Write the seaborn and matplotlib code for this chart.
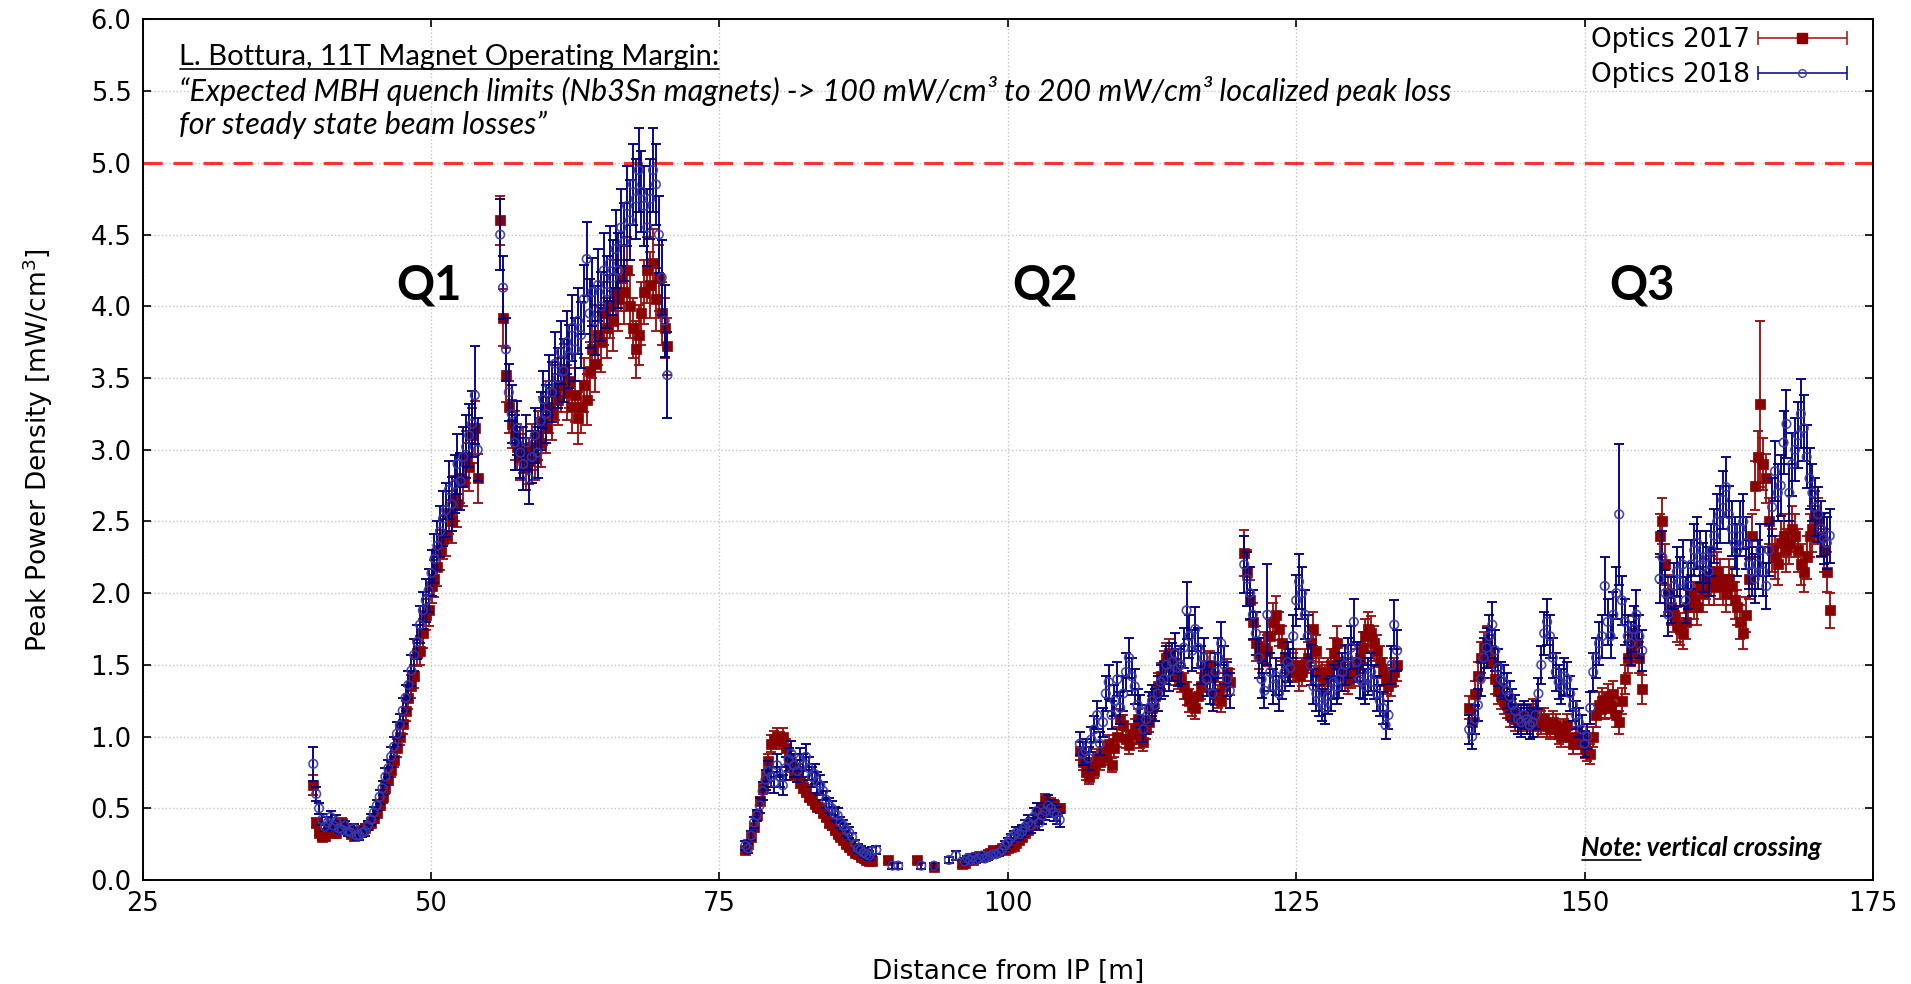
import numpy as np
import matplotlib
matplotlib.use("Agg")
import matplotlib.pyplot as plt
import seaborn as sns
from matplotlib.container import ErrorbarContainer
from matplotlib.legend_handler import HandlerErrorbar
from matplotlib.lines import Line2D
from matplotlib.transforms import IdentityTransform

nan = np.nan

# ---------------------------------------------------------------- data
# Peak power density [mW/cm^3] along the triplet, per magnet section.
# x: distance from IP [m]; y17/e17: optics 2017; y18/e18: optics 2018.

# Q1, rising part
x_q1a = [39.80, 40.05, 40.30, 40.55, 40.80, 41.05, 41.30, 41.55, 41.80, 42.05,
         42.30, 42.55, 42.80, 43.05, 43.30, 43.55, 43.80, 44.05, 44.30, 44.55,
         44.80, 45.05, 45.30, 45.55, 45.80, 46.05, 46.30, 46.55, 46.80, 47.05,
         47.30, 47.55, 47.80, 48.05, 48.30, 48.55, 48.80, 49.05, 49.30, 49.55,
         49.80, 50.05, 50.30, 50.55, 50.80, 51.05, 51.30, 51.55, 51.80, 52.05,
         52.30, 52.55, 52.80, 53.05, 53.30, 53.55, 53.80, 54.05]
y17_q1a = [0.66, 0.40, 0.33, 0.30, 0.31, 0.34, 0.36, 0.33, 0.33, 0.37,
           0.40, 0.36, 0.35, 0.32, 0.31, 0.33, 0.34, 0.35, 0.36, 0.38,
           0.40, 0.43, 0.47, 0.52, 0.58, 0.64, 0.70, 0.77, 0.84, 0.92,
           1.00, 1.09, 1.18, 1.27, 1.35, 1.42, 1.58, 1.60, 1.72, 1.85,
           1.88, 2.05, 2.10, 2.18, 2.30, 2.38, 2.40, 2.56, 2.50, 2.66,
           2.62, 2.80, 2.78, 2.95, 2.88, 3.10, 3.15, 2.80]
e17_q1a = [0.07, 0.03, 0.02, 0.02, 0.02, 0.02, 0.03, 0.02, 0.02, 0.03,
           0.03, 0.03, 0.03, 0.02, 0.02, 0.02, 0.02, 0.02, 0.03, 0.03,
           0.03, 0.03, 0.03, 0.03, 0.04, 0.04, 0.04, 0.05, 0.05, 0.06,
           0.06, 0.07, 0.07, 0.08, 0.08, 0.08, 0.09, 0.10, 0.10, 0.11,
           0.11, 0.12, 0.13, 0.13, 0.14, 0.14, 0.14, 0.15, 0.15, 0.16,
           0.16, 0.17, 0.17, 0.18, 0.17, 0.19, 0.19, 0.17]
y18_q1a = [0.81, 0.60, 0.50, 0.42, 0.37, 0.40, 0.44, 0.38, 0.41, 0.36,
           0.35, 0.38, 0.34, 0.33, 0.36, 0.31, 0.31, 0.33, 0.34, 0.38,
           0.42, 0.47, 0.52, 0.58, 0.64, 0.72, 0.78, 0.86, 0.93, 1.02,
           1.08, 1.18, 1.27, 1.36, 1.46, 1.57, 1.66, 1.78, 1.88, 1.95,
           2.02, 2.14, 2.24, 2.33, 2.43, 2.52, 2.58, 2.72, 2.62, 2.76,
           2.90, 2.78, 2.95, 3.02, 3.10, 3.18, 3.38, 3.00]
e18_q1a = [0.12, 0.05, 0.04, 0.04, 0.03, 0.04, 0.04, 0.03, 0.04, 0.03,
           0.03, 0.03, 0.03, 0.03, 0.03, 0.03, 0.03, 0.03, 0.03, 0.03,
           0.04, 0.04, 0.04, 0.05, 0.05, 0.06, 0.06, 0.07, 0.07, 0.08,
           0.08, 0.09, 0.09, 0.10, 0.11, 0.11, 0.12, 0.13, 0.13, 0.15,
           0.15, 0.16, 0.17, 0.17, 0.18, 0.19, 0.19, 0.20, 0.19, 0.20,
           0.21, 0.20, 0.21, 0.22, 0.22, 0.23, 0.34, 0.22]

# Q1, second half
x_q1b = [56.00, 56.25, 56.50, 56.75, 57.00, 57.25, 57.50, 57.75, 58.00, 58.25,
         58.50, 58.75, 59.00, 59.25, 59.50, 59.75, 60.00, 60.25, 60.50, 60.75,
         61.00, 61.25, 61.50, 61.75, 62.00, 62.25, 62.50, 62.75, 63.00, 63.25,
         63.50, 63.75, 64.00, 64.25, 64.50, 64.75, 65.00, 65.25, 65.50, 65.75,
         66.00, 66.25, 66.50, 66.75, 67.00, 67.25, 67.50, 67.75, 68.00, 68.25,
         68.50, 68.75, 69.00, 69.25, 69.50, 69.75, 70.00, 70.25, 70.50]
y17_q1b = [4.60, 3.92, 3.52, 3.30, 3.18, 3.10, 3.02, 2.95, 3.00, 2.88,
           2.92, 3.02, 2.95, 3.10, 3.05, 3.20, 3.15, 3.30, 3.25, 3.40,
           3.35, 3.45, 3.55, 3.40, 3.48, 3.30, 3.38, 3.22, 3.30, 3.45,
           3.35, 3.55, 3.70, 3.60, 3.80, 3.75, 3.95, 3.85, 4.00, 3.90,
           4.10, 4.05, 4.20, 4.10, 4.25, 4.00, 3.85, 3.70, 3.80, 3.95,
           4.10, 4.25, 4.15, 4.30, 4.05, 4.20, 3.95, 3.85, 3.72]
e17_q1b = [0.17, 0.20, 0.19, 0.18, 0.17, 0.17, 0.16, 0.16, 0.16, 0.16,
           0.16, 0.16, 0.16, 0.17, 0.17, 0.17, 0.17, 0.18, 0.18, 0.19,
           0.18, 0.19, 0.19, 0.19, 0.19, 0.18, 0.19, 0.18, 0.18, 0.19,
           0.18, 0.20, 0.20, 0.20, 0.21, 0.21, 0.22, 0.21, 0.22, 0.21,
           0.22, 0.22, 0.23, 0.22, 0.23, 0.22, 0.21, 0.20, 0.21, 0.22,
           0.22, 0.23, 0.23, 0.24, 0.22, 0.23, 0.22, 0.21, 0.20]
y18_q1b = [4.50, 4.13, 3.70, 3.40, 3.25, 3.05, 3.15, 2.98, 2.90, 3.05,
           2.80, 2.95, 3.10, 2.98, 3.20, 3.35, 3.25, 3.45, 3.40, 3.60,
           3.50, 3.68, 3.55, 3.75, 3.65, 3.85, 3.70, 3.90, 3.80, 4.05,
           4.33, 3.95, 4.10, 3.90, 4.15, 4.00, 4.25, 4.10, 4.30, 4.20,
           4.40, 4.25, 4.55, 4.45, 4.70, 4.60, 4.85, 4.75, 4.95, 4.80,
           4.70, 4.55, 4.75, 4.95, 4.85, 4.50, 4.20, 3.90, 3.52]
e18_q1b = [0.25, 0.22, 0.22, 0.20, 0.20, 0.19, 0.19, 0.18, 0.18, 0.19,
           0.18, 0.18, 0.19, 0.18, 0.20, 0.20, 0.20, 0.21, 0.21, 0.22,
           0.21, 0.22, 0.22, 0.22, 0.22, 0.23, 0.22, 0.23, 0.23, 0.24,
           0.26, 0.24, 0.24, 0.24, 0.25, 0.24, 0.26, 0.25, 0.26, 0.26,
           0.27, 0.26, 0.27, 0.27, 0.28, 0.28, 0.28, 0.28, 0.29, 0.28,
           0.28, 0.27, 0.28, 0.29, 0.28, 0.27, 0.26, 0.25, 0.30]

# Q2, first bump
x_q2a = [77.25, 77.50, 77.75, 78.00, 78.25, 78.50, 78.75, 79.00, 79.25, 79.50,
         79.75, 80.00, 80.25, 80.50, 80.75, 81.00, 81.25, 81.50, 81.75, 82.00,
         82.25, 82.50, 82.75, 83.00, 83.25, 83.50, 83.75, 84.00, 84.25, 84.50,
         84.75, 85.00, 85.25, 85.50, 85.75, 86.00, 86.25, 86.50, 86.75, 87.00,
         87.25, 87.50, 87.75, 88.00, 88.25]
y17_q2a = [0.21, 0.25, 0.30, 0.37, 0.45, 0.55, 0.64, 0.72, 0.83, 0.95,
           0.98, 1.00, 0.97, 1.00, 0.92, 0.85, 0.80, 0.74, 0.76, 0.68,
           0.65, 0.62, 0.58, 0.56, 0.53, 0.51, 0.50, 0.47, 0.44, 0.40,
           0.38, 0.35, 0.32, 0.30, 0.28, 0.25, 0.23, 0.21, 0.19, 0.18,
           0.16, 0.15, 0.14, 0.13, 0.13]
e17_q2a = [0.02, 0.02, 0.02, 0.02, 0.03, 0.03, 0.04, 0.04, 0.05, 0.06,
           0.06, 0.06, 0.06, 0.06, 0.06, 0.05, 0.05, 0.04, 0.05, 0.04,
           0.04, 0.04, 0.03, 0.03, 0.03, 0.03, 0.03, 0.03, 0.03, 0.03,
           0.03, 0.02, 0.02, 0.02, 0.02, 0.02, 0.02, 0.02, 0.02, 0.02,
           0.02, 0.02, 0.02, 0.02, 0.02]
y18_q2a = [0.24, 0.22, 0.31, 0.40, 0.45, 0.52, 0.62, 0.70, 0.76, 0.72,
           0.68, 0.80, 0.72, 0.66, 0.78, 0.84, 0.88, 0.80, 0.76, 0.84,
           0.80, 0.86, 0.78, 0.72, 0.74, 0.68, 0.66, 0.62, 0.56, 0.52,
           0.50, 0.46, 0.45, 0.40, 0.38, 0.35, 0.33, 0.30, 0.25, 0.22,
           0.21, 0.19, 0.18, 0.17, 0.20]
e18_q2a = [0.03, 0.03, 0.03, 0.04, 0.04, 0.05, 0.06, 0.07, 0.07, 0.07,
           0.07, 0.08, 0.07, 0.07, 0.08, 0.08, 0.09, 0.08, 0.08, 0.08,
           0.08, 0.09, 0.08, 0.07, 0.07, 0.07, 0.07, 0.06, 0.06, 0.05,
           0.05, 0.05, 0.05, 0.04, 0.04, 0.04, 0.04, 0.03, 0.03, 0.03,
           0.03, 0.03, 0.03, 0.03, 0.03]

# Q2, sparse low-loss stretch (nan = no bin for that optics)
x_q2s = [88.6, 89.6, 90.0, 90.5, 92.1, 92.5, 93.6, 94.9, 95.5, 96.0]
y17_q2s = [nan, 0.14, nan, nan, 0.14, nan, 0.09, nan, nan, 0.11]
e17_q2s = [nan, 0.02, nan, nan, 0.02, nan, 0.01, nan, nan, 0.02]
y18_q2s = [0.21, nan, 0.10, 0.10, nan, 0.10, 0.10, 0.14, 0.17, nan]
e18_q2s = [0.03, nan, 0.02, 0.02, nan, 0.02, 0.02, 0.02, 0.03, nan]

# Q2, slow rise
x_q2b = [96.25, 96.50, 96.75, 97.00, 97.25, 97.50, 97.75, 98.00, 98.25, 98.50,
         98.75, 99.00, 99.25, 99.50, 99.75, 100.00, 100.25, 100.50, 100.75,
         101.00, 101.25, 101.50, 101.75, 102.00, 102.25, 102.50, 102.75,
         103.00, 103.25, 103.50, 103.75, 104.00, 104.25, 104.50]
y17_q2b = [0.12, 0.14, 0.15, 0.14, 0.16, 0.17, 0.16, 0.17, 0.18, 0.19,
           0.21, 0.20, 0.21, 0.22, 0.21, 0.22, 0.23, 0.24, 0.26, 0.28,
           0.30, 0.33, 0.35, 0.38, 0.40, 0.43, 0.46, 0.50, 0.56, 0.50,
           0.53, 0.52, 0.48, 0.50]
e17_q2b = [0.02, 0.02, 0.02, 0.02, 0.02, 0.02, 0.02, 0.02, 0.02, 0.02,
           0.02, 0.02, 0.02, 0.02, 0.02, 0.02, 0.02, 0.02, 0.02, 0.02,
           0.02, 0.02, 0.02, 0.03, 0.03, 0.03, 0.03, 0.03, 0.04, 0.03,
           0.04, 0.04, 0.03, 0.03]
y18_q2b = [0.13, 0.15, 0.14, 0.16, 0.14, 0.15, 0.17, 0.15, 0.16, 0.17,
           0.18, 0.18, 0.19, 0.21, 0.24, 0.26, 0.29, 0.31, 0.33, 0.32,
           0.34, 0.37, 0.40, 0.38, 0.44, 0.48, 0.40, 0.45, 0.48, 0.52,
           0.50, 0.47, 0.45, 0.42]
e18_q2b = [0.02, 0.02, 0.02, 0.02, 0.02, 0.02, 0.02, 0.02, 0.02, 0.02,
           0.02, 0.02, 0.02, 0.02, 0.03, 0.03, 0.03, 0.03, 0.04, 0.04,
           0.04, 0.05, 0.05, 0.05, 0.06, 0.06, 0.05, 0.06, 0.06, 0.07,
           0.06, 0.06, 0.06, 0.05]

# Q2, second module
x_q2c = [106.25, 106.50, 106.75, 107.00, 107.25, 107.50, 107.75, 108.00,
         108.25, 108.50, 108.75, 109.00, 109.25, 109.50, 109.75, 110.00,
         110.25, 110.50, 110.75, 111.00, 111.25, 111.50, 111.75, 112.00,
         112.25, 112.50, 112.75, 113.00, 113.25, 113.50, 113.75, 114.00,
         114.25, 114.50, 114.75, 115.00, 115.25, 115.50, 115.75, 116.00,
         116.25, 116.50, 116.75, 117.00, 117.25, 117.50, 117.75, 118.00,
         118.25, 118.50, 118.75, 119.00, 119.25]
y17_q2c = [0.90, 0.82, 0.75, 0.72, 0.80, 0.76, 0.85, 0.82, 0.90, 0.86,
           0.95, 0.80, 0.92, 1.00, 1.12, 1.08, 0.98, 0.94, 1.02, 1.05,
           1.12, 0.98, 0.96, 1.05, 1.10, 1.20, 1.28, 1.35, 1.42, 1.50,
           1.55, 1.58, 1.50, 1.45, 1.42, 1.40, 1.35, 1.30, 1.25, 1.22,
           1.20, 1.28, 1.35, 1.40, 1.48, 1.50, 1.42, 1.30, 1.28, 1.25,
           1.35, 1.45, 1.38]
e17_q2c = [0.06, 0.05, 0.05, 0.05, 0.05, 0.05, 0.06, 0.05, 0.06, 0.06,
           0.06, 0.05, 0.06, 0.07, 0.07, 0.07, 0.06, 0.06, 0.07, 0.07,
           0.07, 0.06, 0.06, 0.07, 0.07, 0.08, 0.08, 0.09, 0.09, 0.10,
           0.10, 0.10, 0.10, 0.09, 0.09, 0.09, 0.09, 0.08, 0.08, 0.08,
           0.08, 0.08, 0.09, 0.09, 0.10, 0.10, 0.09, 0.08, 0.08, 0.08,
           0.09, 0.09, 0.09]
y18_q2c = [0.95, 0.88, 0.90, 0.85, 0.98, 1.05, 1.15, 0.95, 1.10, 1.30,
           1.38, 1.15, 1.25, 1.40, 1.20, 1.30, 1.45, 1.55, 1.42, 1.35,
           1.22, 1.18, 1.05, 1.12, 1.20, 1.25, 1.22, 1.30, 1.38, 1.40,
           1.50, 1.45, 1.52, 1.58, 1.48, 1.50, 1.62, 1.88, 1.70, 1.60,
           1.75, 1.62, 1.50, 1.55, 1.40, 1.35, 1.30, 1.45, 1.55, 1.65,
           1.50, 1.40, 1.32]
e18_q2c = [0.08, 0.08, 0.08, 0.08, 0.09, 0.09, 0.10, 0.08, 0.10, 0.12,
           0.12, 0.10, 0.11, 0.12, 0.11, 0.12, 0.13, 0.14, 0.13, 0.12,
           0.11, 0.11, 0.09, 0.10, 0.11, 0.11, 0.11, 0.12, 0.12, 0.12,
           0.13, 0.13, 0.13, 0.14, 0.13, 0.13, 0.14, 0.20, 0.15, 0.14,
           0.15, 0.14, 0.13, 0.14, 0.12, 0.12, 0.12, 0.13, 0.14, 0.15,
           0.13, 0.12, 0.12]

# Q2, third module
x_q2d = [120.50, 120.75, 121.00, 121.25, 121.50, 121.75, 122.00, 122.25,
         122.50, 122.75, 123.00, 123.25, 123.50, 123.75, 124.00, 124.25,
         124.50, 124.75, 125.00, 125.25, 125.50, 125.75, 126.00, 126.25,
         126.50, 126.75, 127.00, 127.25, 127.50, 127.75, 128.00, 128.25,
         128.50, 128.75, 129.00, 129.25, 129.50, 129.75, 130.00, 130.25,
         130.50, 130.75, 131.00, 131.25, 131.50, 131.75, 132.00, 132.25,
         132.50, 132.75, 133.00, 133.25, 133.50, 133.75]
y17_q2d = [2.28, 2.15, 1.95, 1.80, 1.65, 1.58, 1.55, 1.62, 1.60, 1.70,
           1.80, 1.85, 1.75, 1.65, 1.55, 1.50, 1.45, 1.48, 1.50, 1.42,
           1.45, 1.50, 1.55, 1.65, 1.75, 1.60, 1.45, 1.42, 1.40, 1.45,
           1.50, 1.58, 1.65, 1.52, 1.45, 1.42, 1.40, 1.44, 1.45, 1.50,
           1.55, 1.62, 1.70, 1.75, 1.72, 1.65, 1.60, 1.52, 1.45, 1.40,
           1.35, 1.38, 1.45, 1.50]
e17_q2d = [0.16, 0.15, 0.14, 0.13, 0.12, 0.11, 0.11, 0.11, 0.11, 0.12,
           0.13, 0.13, 0.12, 0.12, 0.11, 0.11, 0.10, 0.10, 0.11, 0.10,
           0.10, 0.11, 0.11, 0.12, 0.12, 0.11, 0.10, 0.10, 0.10, 0.10,
           0.11, 0.11, 0.12, 0.11, 0.10, 0.10, 0.10, 0.10, 0.10, 0.11,
           0.11, 0.11, 0.12, 0.12, 0.12, 0.12, 0.11, 0.11, 0.10, 0.10,
           0.10, 0.10, 0.10, 0.11]
y18_q2d = [2.20, 2.10, 2.00, 1.85, 1.72, 1.55, 1.40, 1.32, 1.85, 1.45,
           1.35, 1.42, 1.30, 1.38, 1.45, 1.52, 1.48, 1.70, 1.95, 2.08,
           2.00, 1.85, 1.70, 1.50, 1.35, 1.30, 1.25, 1.22, 1.20, 1.28,
           1.30, 1.38, 1.35, 1.40, 1.45, 1.50, 1.55, 1.62, 1.80, 1.52,
           1.40, 1.38, 1.35, 1.42, 1.45, 1.38, 1.30, 1.25, 1.20, 1.08,
           1.15, 1.50, 1.78, 1.60]
e18_q2d = [0.20, 0.19, 0.18, 0.17, 0.15, 0.14, 0.13, 0.12, 0.35, 0.13,
           0.12, 0.13, 0.12, 0.12, 0.13, 0.14, 0.13, 0.15, 0.18, 0.19,
           0.18, 0.17, 0.15, 0.14, 0.12, 0.12, 0.11, 0.11, 0.11, 0.12,
           0.12, 0.12, 0.12, 0.13, 0.13, 0.14, 0.14, 0.15, 0.16, 0.14,
           0.13, 0.12, 0.12, 0.13, 0.13, 0.12, 0.12, 0.11, 0.11, 0.10,
           0.10, 0.13, 0.17, 0.14]

# Q3, first half
x_q3a = [140.00, 140.25, 140.50, 140.75, 141.00, 141.25, 141.50, 141.75,
         142.00, 142.25, 142.50, 142.75, 143.00, 143.25, 143.50, 143.75,
         144.00, 144.25, 144.50, 144.75, 145.00, 145.25, 145.50, 145.75,
         146.00, 146.25, 146.50, 146.75, 147.00, 147.25, 147.50, 147.75,
         148.00, 148.25, 148.50, 148.75, 149.00, 149.25, 149.50, 149.75,
         150.00, 150.25, 150.50, 150.75, 151.00, 151.25, 151.50, 151.75,
         152.00, 152.25, 152.50, 152.75, 153.00, 153.25, 153.50, 153.75,
         154.00, 154.25, 154.50, 154.75, 155.00]
y17_q3a = [1.20, 1.10, 1.30, 1.42, 1.55, 1.62, 1.65, 1.60, 1.52, 1.40,
           1.32, 1.28, 1.25, 1.22, 1.15, 1.18, 1.12, 1.10, 1.15, 1.12,
           1.10, 1.15, 1.18, 1.12, 1.08, 1.10, 1.12, 1.08, 1.05, 1.10,
           1.08, 1.02, 1.00, 1.05, 1.08, 1.00, 0.95, 0.98, 1.00, 0.95,
           0.92, 0.90, 0.88, 1.00, 1.15, 1.22, 1.25, 1.20, 1.28, 1.22,
           1.30, 1.15, 1.10, 1.25, 1.40, 1.55, 1.60, 1.72, 1.65, 1.55,
           1.33]
e17_q3a = [0.08, 0.08, 0.09, 0.10, 0.11, 0.11, 0.12, 0.11, 0.11, 0.10,
           0.09, 0.09, 0.09, 0.09, 0.08, 0.08, 0.08, 0.08, 0.08, 0.08,
           0.08, 0.08, 0.08, 0.08, 0.08, 0.08, 0.08, 0.08, 0.07, 0.08,
           0.08, 0.07, 0.07, 0.07, 0.08, 0.07, 0.07, 0.07, 0.07, 0.07,
           0.07, 0.07, 0.07, 0.07, 0.08, 0.09, 0.09, 0.08, 0.09, 0.09,
           0.09, 0.08, 0.08, 0.09, 0.10, 0.11, 0.11, 0.12, 0.12, 0.11,
           0.10]
y18_q3a = [1.05, 1.00, 1.12, 1.22, 1.40, 1.55, 1.62, 1.70, 1.78, 1.60,
           1.48, 1.40, 1.38, 1.32, 1.28, 1.22, 1.18, 1.12, 1.10, 1.15,
           1.12, 1.08, 1.10, 1.15, 1.30, 1.50, 1.72, 1.80, 1.70, 1.55,
           1.45, 1.38, 1.35, 1.42, 1.40, 1.30, 1.22, 1.15, 1.10, 1.05,
           0.95, 1.00, 1.20, 1.45, 1.55, 1.65, 1.70, 2.05, 1.80, 1.70,
           1.85, 2.00, 2.55, 1.95, 1.80, 1.70, 1.65, 1.75, 1.85, 1.70,
           1.60]
e18_q3a = [0.10, 0.09, 0.10, 0.11, 0.12, 0.14, 0.14, 0.15, 0.16, 0.14,
           0.13, 0.12, 0.12, 0.12, 0.11, 0.11, 0.11, 0.10, 0.10, 0.10,
           0.10, 0.10, 0.10, 0.10, 0.11, 0.13, 0.15, 0.16, 0.15, 0.14,
           0.13, 0.12, 0.12, 0.13, 0.12, 0.12, 0.11, 0.10, 0.10, 0.10,
           0.09, 0.09, 0.11, 0.13, 0.14, 0.15, 0.15, 0.20, 0.16, 0.15,
           0.16, 0.18, 0.49, 0.17, 0.16, 0.15, 0.15, 0.16, 0.17, 0.15,
           0.14]

# Q3, second half
x_q3b = [156.50, 156.75, 157.00, 157.25, 157.50, 157.75, 158.00, 158.25,
         158.50, 158.75, 159.00, 159.25, 159.50, 159.75, 160.00, 160.25,
         160.50, 160.75, 161.00, 161.25, 161.50, 161.75, 162.00, 162.25,
         162.50, 162.75, 163.00, 163.25, 163.50, 163.75, 164.00, 164.25,
         164.50, 164.75, 165.00, 165.25, 165.50, 165.75, 166.00, 166.25,
         166.50, 166.75, 167.00, 167.25, 167.50, 167.75, 168.00, 168.25,
         168.50, 168.75, 169.00, 169.25, 169.50, 169.75, 170.00, 170.25,
         170.50, 170.75, 171.00, 171.25]
y17_q3b = [2.40, 2.50, 2.20, 2.00, 1.90, 1.85, 1.78, 1.75, 1.72, 1.80,
           1.90, 2.00, 1.95, 1.90, 2.05, 2.00, 2.10, 2.05, 2.12, 2.05,
           2.15, 2.10, 2.05, 2.00, 2.10, 2.05, 1.95, 1.90, 1.80, 1.72,
           1.85, 2.10, 2.40, 2.75, 2.95, 3.32, 2.90, 2.80, 2.50, 2.30,
           2.25, 2.20, 2.35, 2.40, 2.30, 2.35, 2.45, 2.40, 2.30, 2.20,
           2.15, 2.25, 2.40, 2.45, 2.55, 2.50, 2.40, 2.30, 2.15, 1.88]
e17_q3b = [0.15, 0.16, 0.14, 0.13, 0.12, 0.12, 0.12, 0.11, 0.11, 0.12,
           0.12, 0.13, 0.13, 0.12, 0.13, 0.13, 0.14, 0.13, 0.14, 0.13,
           0.14, 0.14, 0.13, 0.13, 0.14, 0.13, 0.13, 0.12, 0.12, 0.11,
           0.12, 0.14, 0.15, 0.17, 0.18, 0.58, 0.18, 0.17, 0.16, 0.15,
           0.15, 0.14, 0.15, 0.15, 0.15, 0.15, 0.16, 0.15, 0.15, 0.14,
           0.14, 0.15, 0.15, 0.16, 0.16, 0.16, 0.15, 0.15, 0.14, 0.12]
y18_q3b = [2.10, 2.25, 2.00, 1.85, 1.95, 2.05, 2.15, 2.08, 2.20, 1.95,
           2.05, 2.20, 2.30, 2.35, 2.25, 2.18, 2.25, 2.15, 2.30, 2.40,
           2.50, 2.55, 2.65, 2.74, 2.55, 2.45, 2.35, 2.30, 2.45, 2.50,
           2.35, 2.20, 2.15, 2.10, 2.20, 2.30, 2.15, 2.05, 2.30, 2.60,
           2.85, 2.70, 2.75, 3.05, 3.18, 2.70, 2.90, 3.00, 3.10, 3.25,
           3.15, 2.95, 2.80, 2.70, 2.60, 2.55, 2.45, 2.38, 2.35, 2.40]
e18_q3b = [0.17, 0.18, 0.16, 0.15, 0.16, 0.16, 0.17, 0.17, 0.17, 0.16,
           0.16, 0.17, 0.18, 0.18, 0.18, 0.17, 0.18, 0.17, 0.18, 0.19,
           0.19, 0.20, 0.20, 0.21, 0.20, 0.19, 0.18, 0.18, 0.19, 0.19,
           0.18, 0.17, 0.17, 0.17, 0.17, 0.18, 0.17, 0.16, 0.18, 0.20,
           0.21, 0.20, 0.21, 0.22, 0.24, 0.20, 0.22, 0.22, 0.23, 0.24,
           0.23, 0.22, 0.21, 0.20, 0.20, 0.19, 0.19, 0.18, 0.18, 0.19]

quench_limit = 5.0          # mW/cm^3
magnet_names = ["Q1", "Q2", "Q3"]
magnet_label_x = [49.8, 103.2, 155.0]
series_labels = ["Optics 2017", "Optics 2018"]

# ---------------------------------------------------------------- assemble
sections = ["q1a", "q1b", "q2a", "q2s", "q2b", "q2c", "q2d", "q3a", "q3b"]
g = globals()
for s in sections:
    n = len(g["x_" + s])
    for k in ("y17_", "e17_", "y18_", "e18_"):
        if len(g[k + s]) != n:
            raise ValueError(f"{k}{s}: {len(g[k + s])} values, expected {n}")

x = np.concatenate([g["x_" + s] for s in sections]).astype(float)
y17 = np.concatenate([g["y17_" + s] for s in sections]).astype(float)
e17 = np.concatenate([g["e17_" + s] for s in sections]).astype(float)
y18 = np.concatenate([g["y18_" + s] for s in sections]).astype(float)
e18 = np.concatenate([g["e18_" + s] for s in sections]).astype(float)

RED = "#8b0000"
RED_BAR = "#9a1010"
BLUE = "#000085"
BLUE_RING = (0.22, 0.22, 0.66, 0.9)
TXT = ["Lato", "DejaVu Sans"]

# ---------------------------------------------------------------- figure
sns.set_style("ticks")
plt.rcParams["font.family"] = ["DejaVu Sans"]
plt.rcParams["text.color"] = "black"
plt.rcParams["axes.labelcolor"] = "black"

fig = plt.figure(figsize=(19.11, 9.84), dpi=100)
ax = fig.add_axes([0.0746, 0.1057, 0.9055, 0.8745])

bar_kw = dict(fmt="none", elinewidth=1.35, capsize=3.6, capthick=1.35)
ax.errorbar(x, y17, yerr=e17, ecolor=RED_BAR, zorder=2, **bar_kw)
sns.scatterplot(x=x, y=y17, marker="s", s=46, color=RED, edgecolor=RED,
                linewidth=0.5, ax=ax, zorder=3, legend=False)
ax.errorbar(x, y18, yerr=e18, ecolor=BLUE, zorder=4, **bar_kw)
sns.scatterplot(x=x, y=y18, marker="o", s=38, color=BLUE, facecolors="none",
                edgecolor=BLUE_RING, linewidth=1.2, ax=ax, zorder=5,
                legend=False)

ax.axhline(quench_limit, color="#ff3030", lw=2.3, ls=(0, (6, 3.4)), zorder=1.5)

# legend entries drawn in gnuplot fashion: horizontal bar with end caps
h17 = ax.errorbar([nan], [nan], xerr=[1.0], fmt="s", ms=6.5, color=RED,
                  mec=RED, mfc=RED, ecolor=RED_BAR, elinewidth=1.1,
                  capsize=5, capthick=1.1, label=series_labels[0])
h18 = ax.errorbar([nan], [nan], xerr=[1.0], fmt="o", ms=5.5, color=BLUE,
                  mec=BLUE_RING, mfc="none", mew=1.1, ecolor=BLUE,
                  elinewidth=1.1, capsize=5, capthick=1.1,
                  label=series_labels[1])
ax.legend(handles=[h17, h18], loc="upper right",
          bbox_to_anchor=(0.9913, 1.003), frameon=False,
          markerfirst=False, fontsize=19, handlelength=3.4,
          handletextpad=0.3, borderaxespad=0.0, labelspacing=0.34,
          handler_map={ErrorbarContainer: HandlerErrorbar(xerr_size=1.7,
                                                          numpoints=1)})

ax.set_xlim(25, 175)
ax.set_ylim(0, 6)
ax.set_xticks(np.arange(25, 176, 25))
ax.set_yticks(np.arange(0, 6.01, 0.5))
ax.yaxis.set_major_formatter(matplotlib.ticker.FormatStrFormatter("%.1f"))
ax.grid(True, ls=":", color="#c4c4c4", lw=1.0)
ax.set_axisbelow(True)
ax.tick_params(direction="in", top=True, right=True, length=6, width=1.2,
               labelsize=18.5, colors="black", pad=8)
for sp in ax.spines.values():
    sp.set_color("black")
    sp.set_linewidth(1.4)

ax.set_xlabel("Distance from IP [m]", fontsize=19)
ax.set_ylabel("Peak Power Density [mW/cm$^3$]", fontsize=19)
ax.xaxis.set_label_coords(0.5, -0.0918)
ax.yaxis.set_label_coords(-0.0508, 0.5)

for name, xm in zip(magnet_names, magnet_label_x):
    ax.text(xm, 4.05, name, ha="center", va="baseline", fontsize=34,
            fontweight="bold", family=TXT)

# ---------------------------------------------------------------- captions
fig.canvas.draw()
renderer = fig.canvas.get_renderer()


def text_run(xa, ya, pieces, **kw):
    """Write consecutive text pieces on one baseline, underlining some."""
    x0, y0 = ax.transAxes.transform((xa, ya))
    cur = x0
    for s, underline in pieces:
        t = fig.text(cur / fig.bbox.width, y0 / fig.bbox.height, s,
                     ha="left", va="baseline", **kw)
        bb = t.get_window_extent(renderer)
        if underline:
            fig.add_artist(Line2D([bb.x0 + 1, bb.x1], [y0 - 4, y0 - 4],
                                  transform=IdentityTransform(),
                                  color="black", lw=1.2))
        cur = bb.x1


text_run(0.021, 0.947, [("L. Bottura, 11T Magnet Operating Margin:", True)],
         fontsize=21, family=TXT)
text_run(0.021, 0.905,
         [("\u201cExpected MBH quench limits (Nb3Sn magnets) -> 100 mW/cm\u00b3 "
           "to 200 mW/cm\u00b3 localized peak loss", False)],
         fontsize=22, family=TXT, style="italic")
text_run(0.021, 0.867, [("for steady state beam losses\u201d", False)],
         fontsize=22, family=TXT, style="italic")
text_run(0.831, 0.0283, [("Note:", True), (" vertical crossing", False)],
         fontsize=18.5, family=TXT, style="italic", fontweight="bold")

fig.savefig("out.png", dpi=100)
